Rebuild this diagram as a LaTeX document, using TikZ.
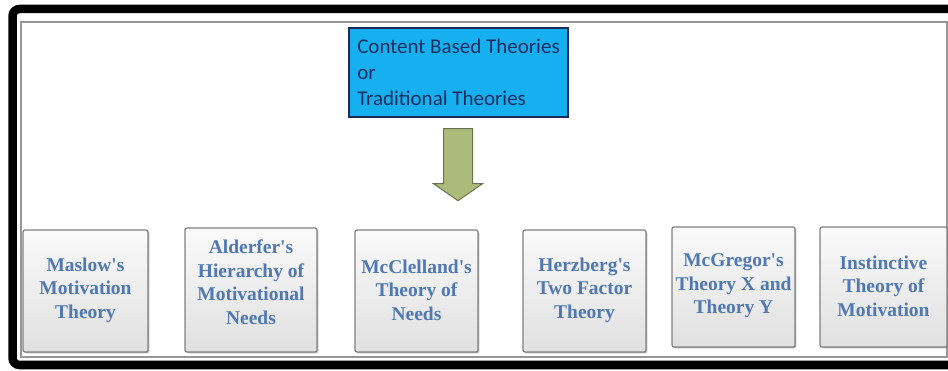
\documentclass[tikz,border=0pt]{standalone}
\usepackage{fontspec}
\newfontfamily\headfont{Carlito}
\newfontfamily\cardfont{Liberation Serif}
\usetikzlibrary{shadows,calc}

\definecolor{innergray}{RGB}{150,150,150}
\definecolor{headfill}{RGB}{22,176,240}
\definecolor{headedge}{RGB}{28,42,88}
\definecolor{headtext}{RGB}{30,45,95}
\definecolor{arrowfill}{RGB}{172,187,122}
\definecolor{arrowedge}{RGB}{105,115,80}
\definecolor{cardedge}{RGB}{128,128,128}
\definecolor{cardtop}{RGB}{250,250,250}
\definecolor{cardbottom}{RGB}{224,224,224}
\definecolor{cardtext}{RGB}{80,120,178}

\tikzset{
  headbox/.style={draw=headedge, line width=1.4pt, fill=headfill,
    text=headtext, align=left, inner xsep=8pt,
    minimum width=219pt, minimum height=89pt,
    font=\headfont\fontsize{21}{26}\selectfont},
  card/.style={draw=cardedge, line width=1.2pt, rounded corners=2pt,
    top color=cardtop, bottom color=cardbottom,
    drop shadow={shadow xshift=1.3pt, shadow yshift=-1.3pt,
      fill=black!50, opacity=0.55}},
  cardlabel/.style={align=center, text=cardtext, inner sep=0pt,
    font=\cardfont\bfseries\fontsize{19.5}{23.5}\selectfont},
  blockarrow/.style={fill=arrowfill, draw=arrowedge, line width=1pt,
    line join=miter},
}

\begin{document}
\begin{tikzpicture}[x=1pt,y=-1pt]
  \useasboundingbox (0,0) rectangle (948,371);
  \clip (0,0) rectangle (948,371);

  % page frame
  \draw[innergray, line width=1.2pt] (21,22) rectangle (947,357);
  \draw[black, line width=8.5pt, rounded corners=7pt]
    (970,9) -- (12.5,9) -- (12.5,365) -- (970,365);

  % heading box
  \node[headbox] (head) at (458.5,72.5)
    {Content Based Theories\\or\\Traditional Theories};

  % block arrow below the heading
  \draw[blockarrow]
    ($(head.south)+(-15,11)$) -- ($(head.south)+(14,11)$)
    -- ($(head.south)+(14,66)$) -- ($(head.south)+(24,66)$)
    -- ($(head.south)+(-0.5,83)$) -- ($(head.south)+(-25,66)$)
    -- ($(head.south)+(-15,66)$) -- cycle;

  % theory cards
  \node[card, minimum width=125pt, minimum height=122pt] (c1) at (85.5,291) {};
  \node[card, minimum width=132pt, minimum height=124pt] (c2) at (251,290) {};
  \node[card, minimum width=123pt, minimum height=122pt] (c3) at (416.5,291) {};
  \node[card, minimum width=123pt, minimum height=122pt] (c4) at (584.5,291) {};
  \node[card, minimum width=123pt, minimum height=120pt] (c5) at (733.5,287) {};
  \node[card, minimum width=127pt, minimum height=120pt] (c6) at (883.5,287) {};

  \node[cardlabel] (t1) at ([yshift=1pt]c1.center) {Maslow\textquotesingle s\\Motivation\\Theory};
  \node[cardlabel] (t2) at ([yshift=8pt]c2.center) {Alderfer\textquotesingle s\\Hierarchy of\\Motivational\\Needs};
  \node[cardlabel] (t3) at ([yshift=1pt]c3.center) {McClelland\textquotesingle s\\Theory of\\Needs};
  \node[cardlabel] (t4) at ([yshift=1pt]c4.center) {Herzberg\textquotesingle s\\Two Factor\\Theory};
  \node[cardlabel] (t5) at ([yshift=1pt]c5.center) {McGregor\textquotesingle s\\Theory X and\\Theory Y};
  \node[cardlabel] (t6) at ([yshift=1pt]c6.center) {Instinctive\\Theory of\\Motivation};
\end{tikzpicture}
\end{document}
